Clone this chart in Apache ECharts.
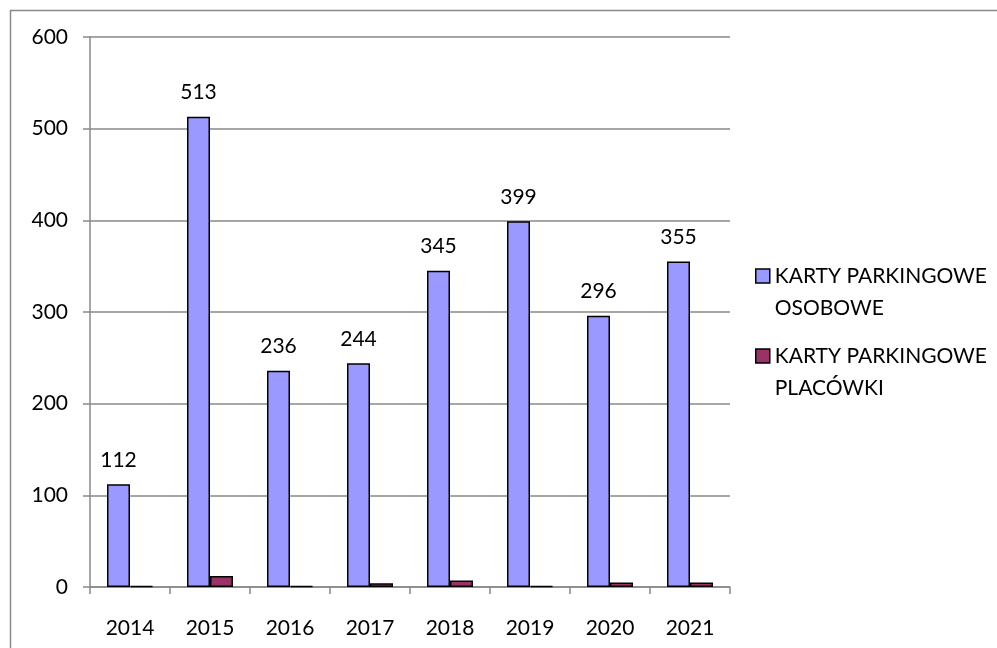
<!DOCTYPE html>
<html><head><meta charset="utf-8">
<script src="https://cdn.jsdelivr.net/npm/echarts@6/dist/echarts.min.js"></script>
<style>html,body{margin:0;padding:0;background:#fff}#c{width:997px;height:648px}</style>
</head><body><div id="c"></div>
<script>
const years = ['2014','2015','2016','2017','2018','2019','2020','2021'];
const osobowe = [112,513,236,244,345,399,296,355];
const placowki = [1,12,1,4,7,1,5,5];
const seriesNames = ['KARTY PARKINGOWE\nOSOBOWE','KARTY PARKINGOWE\nPLACÓWKI'];
const yTicks = {min:0,max:600,interval:100};

const chart = echarts.init(document.getElementById('c'));
const font = 'Lato';
const fs = 21;
function legendFor(name, top){
  return {
    orient:'vertical',left:755,top:top,padding:0,
    itemWidth:14,itemHeight:14,itemGap:10,icon:'rect',
    itemStyle:{borderColor:'#000',borderWidth:1.5},
    formatter:n=>' \n'+n,
    textStyle:{fontFamily:font,fontSize:fs,color:'#000',lineHeight:32},
    data:[name]
  };
}
chart.setOption({
  animation:false,
  graphic:[{type:'rect',shape:{x:10.5,y:10.5,width:995,height:660},style:{fill:'none',stroke:'#898989',lineWidth:1.5},silent:true}],
  grid:{left:90,right:267,top:37,bottom:61},
  legend:[legendFor(seriesNames[0],228),legendFor(seriesNames[1],308)],
  xAxis:{type:'category',data:years,
    axisLine:{lineStyle:{color:'#898989',width:1.5}},
    axisTick:{show:true,alignWithLabel:false,length:7,lineStyle:{color:'#898989',width:1.5}},
    axisLabel:{fontFamily:font,fontSize:fs,color:'#000',margin:31}
  },
  yAxis:{type:'value',min:yTicks.min,max:yTicks.max,interval:yTicks.interval,
    axisLine:{show:true,lineStyle:{color:'#898989',width:1.5}},
    axisTick:{show:true,length:7,lineStyle:{color:'#898989',width:1.5}},
    splitLine:{lineStyle:{color:'#898989',width:1.5}},
    axisLabel:{fontFamily:font,fontSize:fs,color:'#000',margin:22}
  },
  series:[
    {name:seriesNames[0],type:'bar',data:osobowe,barWidth:23,barGap:'0%',
     itemStyle:{color:'#9999FF',borderColor:'#000',borderWidth:1.5},
     label:{show:true,position:'top',distance:14,fontFamily:font,fontSize:fs,color:'#000'}},
    {name:seriesNames[1],type:'bar',data:placowki,barWidth:23,barGap:'0%',
     itemStyle:{color:'#993366',borderColor:'#000',borderWidth:1.5}}
  ]
});
</script></body></html>
